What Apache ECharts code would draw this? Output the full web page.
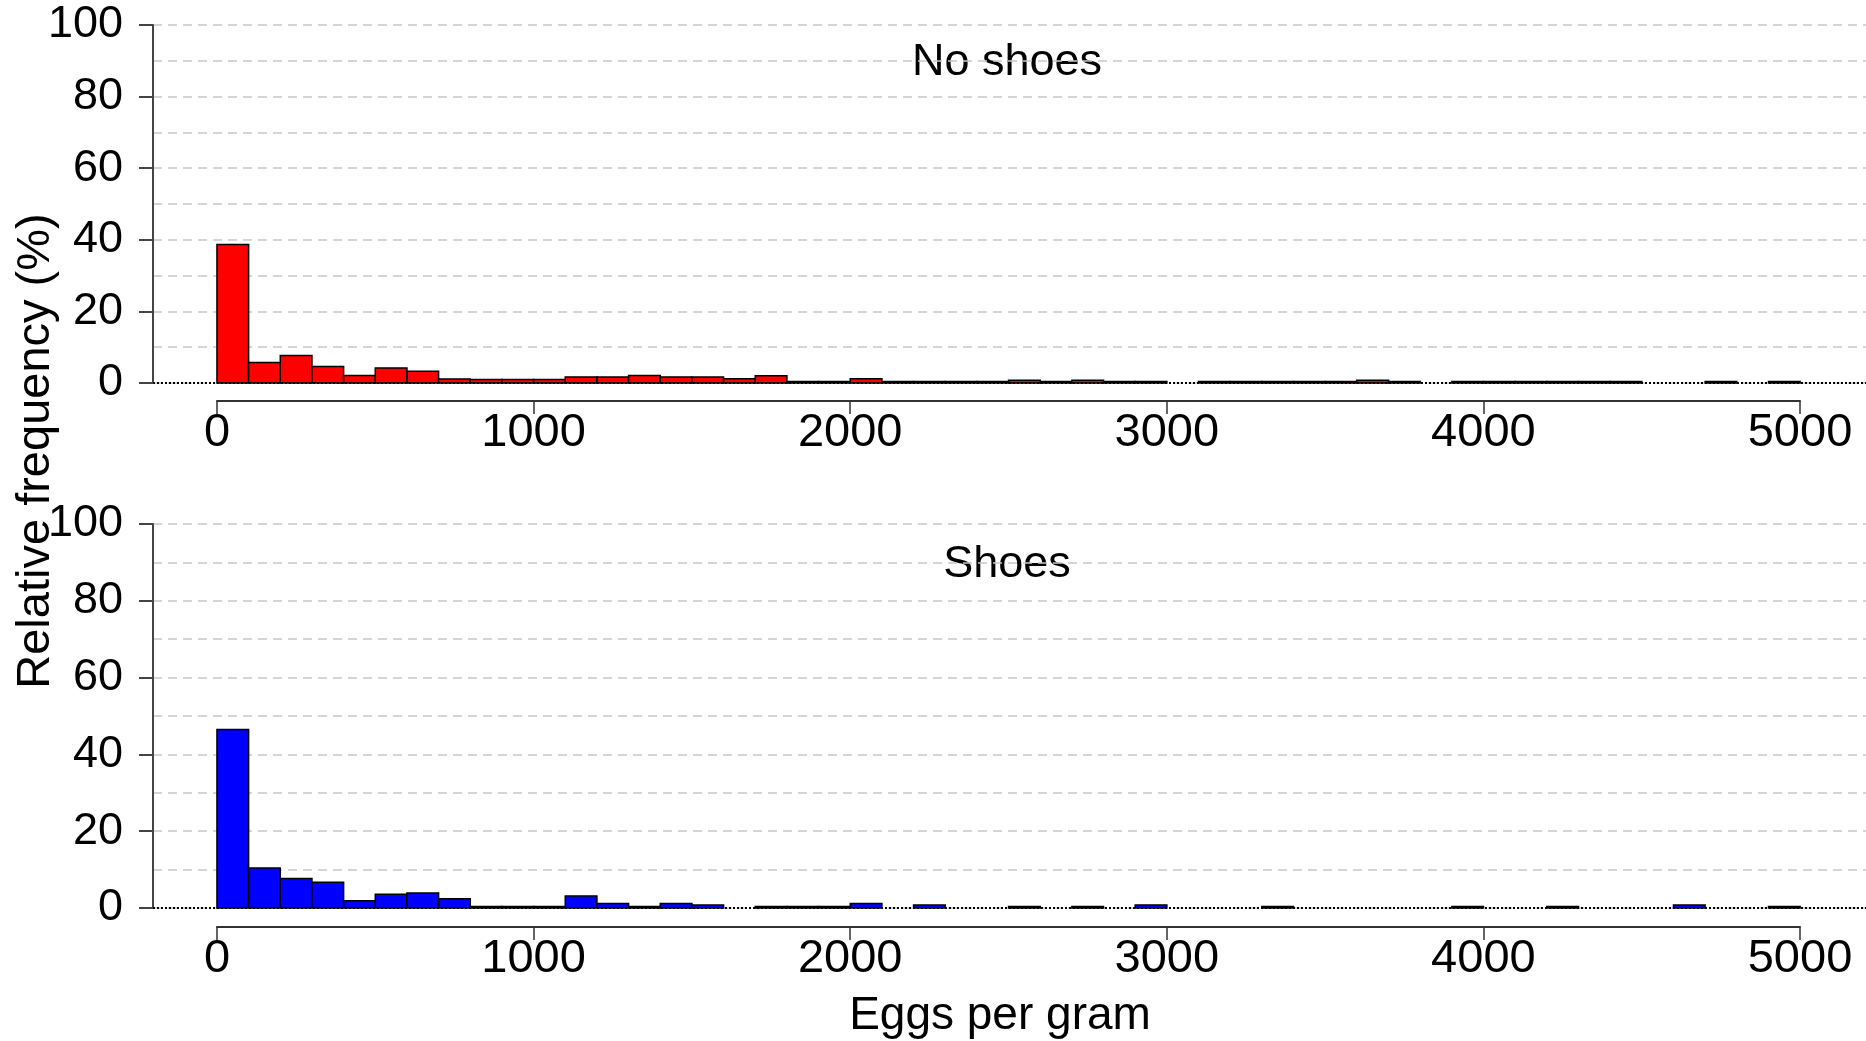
<!DOCTYPE html>
<html>
<head>
<meta charset="utf-8">
<title>Eggs per gram</title>
<script src="https://cdn.jsdelivr.net/npm/echarts@6.0.0/dist/echarts.min.js"></script>
<style>
    html, body { margin: 0; padding: 0; background: #fff; }
    #main { width: 1866px; height: 1041px; }
</style>
</head>
<body>
<div id="main"></div>
<script>
// histogram bins, 100 eggs per gram each, starting at 0
var binWidth = 100;
var xTicks = [0, 1000, 2000, 3000, 4000, 5000];
var yTicks = [0, 20, 40, 60, 80, 100];
var panelNames = ['No shoes', 'Shoes'];

// relative frequency (%) per bin
var noShoes = [
    38.7, 5.7, 7.7, 4.6, 2.1, 4.2, 3.3, 1.1, 1.0, 1.0,
    1.0, 1.7, 1.7, 2.1, 1.7, 1.7, 1.2, 2.0, 0.4, 0.4,
    1.2, 0.4, 0.4, 0.4, 0.4, 0.8, 0.4, 0.8, 0.4, 0.4,
    0, 0.4, 0.4, 0.4, 0.4, 0.4, 0.8, 0.4, 0, 0.4,
    0.4, 0.4, 0.4, 0.4, 0.4, 0, 0, 0.4, 0, 0.4
];
var shoes = [
    46.5, 10.4, 7.7, 6.7, 1.9, 3.6, 3.9, 2.4, 0.4, 0.4,
    0.4, 3.1, 1.2, 0.4, 1.2, 0.8, 0, 0.4, 0.4, 0.4,
    1.2, 0, 0.8, 0, 0, 0.4, 0, 0.4, 0, 0.8,
    0, 0, 0, 0.4, 0, 0, 0, 0, 0, 0.4,
    0, 0, 0.4, 0, 0, 0, 0.8, 0, 0, 0.4
];

var font = 'Liberation Sans, Arial, sans-serif';

function toBins(values) {
    var out = [];
    for (var i = 0; i < values.length; i++) {
        if (values[i] > 0) {
            out.push([i * binWidth, (i + 1) * binWidth, values[i]]);
        }
    }
    return out;
}

function renderBin(params, api) {
    var top = api.coord([api.value(0), api.value(2)]);
    var bottom = api.coord([api.value(1), 0]);
    return {
        type: 'rect',
        shape: {
            x: top[0],
            y: top[1],
            width: bottom[0] - top[0],
            height: bottom[1] - top[1]
        },
        style: {
            fill: api.visual('color'),
            stroke: '#000',
            lineWidth: 1.5
        }
    };
}

// plot area axis (hidden, wider than the labelled 0-5000 axis)
function plotXAxis(grid) {
    return {
        gridIndex: grid,
        type: 'value',
        min: -202,
        max: 5208,
        show: false
    };
}

function tickXAxis(grid) {
    return {
        gridIndex: grid,
        type: 'value',
        position: 'bottom',
        min: xTicks[0],
        max: xTicks[xTicks.length - 1],
        interval: 1000,
        axisLine: { show: true, lineStyle: { color: '#333', width: 2 } },
        axisTick: { show: true, length: 13, lineStyle: { color: '#333', width: 1.5 } },
        axisLabel: {
            show: true, color: '#000', fontSize: 47, fontFamily: font, margin: 9,
            formatter: function (v) { return String(v); }
        },
        splitLine: { show: false }
    };
}

function plotYAxis(grid) {
    return {
        gridIndex: grid,
        type: 'value',
        min: yTicks[0],
        max: yTicks[yTicks.length - 1],
        interval: 20,
        axisLine: { show: true, onZero: false, lineStyle: { color: '#444', width: 2 } },
        axisTick: { show: true, length: 14, lineStyle: { color: '#444', width: 2 } },
        axisLabel: { color: '#000', fontSize: 45, fontFamily: font, margin: 30 },
        splitLine: { show: true, lineStyle: { color: '#c8c8c8', type: [9, 6], width: 1.5 } },
        minorTick: { show: false, splitNumber: 2 },
        minorSplitLine: { show: true, lineStyle: { color: '#c8c8c8', type: [9, 6], width: 1.5 } }
    };
}

function dummyYAxis(grid) {
    return { gridIndex: grid, type: 'value', min: 0, max: 1, show: false };
}

function binSeries(values, color, axisIndex) {
    return {
        type: 'custom',
        xAxisIndex: axisIndex,
        yAxisIndex: axisIndex,
        renderItem: renderBin,
        itemStyle: { color: color },
        encode: { x: [0, 1], y: 2 },
        data: toBins(values),
        silent: true,
        z: 3,
        markLine: {
            silent: true,
            symbol: 'none',
            label: { show: false },
            lineStyle: { color: '#000', type: 'dotted', width: 2 },
            data: [{ yAxis: 0 }]
        }
    };
}

function textItem(str, x, y, size, rot) {
    return {
        type: 'text', x: x, y: y, rotation: rot || 0,
        style: {
            text: str, fill: '#000', font: size + 'px ' + font,
            align: 'center', verticalAlign: 'middle',
            textAlign: 'center', textVerticalAlign: 'middle'
        }
    };
}

var chart = echarts.init(document.getElementById('main'));
var option = {
    animation: false,
    backgroundColor: '#fff',
    grid: [
        { left: 153, right: 0, top: 25, height: 358 },
        { left: 217, width: 1583, top: 383, height: 18 },
        { left: 153, right: 0, top: 524, height: 384 },
        { left: 217, width: 1583, top: 908, height: 19 }
    ],
    xAxis: [plotXAxis(0), tickXAxis(1), plotXAxis(2), tickXAxis(3)],
    yAxis: [plotYAxis(0), dummyYAxis(1), plotYAxis(2), dummyYAxis(3)],
    graphic: [
        textItem(panelNames[0], 1007, 63, 45),
        textItem(panelNames[1], 1007, 565, 45),
        textItem('Relative frequency (%)', 36, 451, 47, Math.PI / 2),
        textItem('Eggs per gram', 1000, 1016, 46)
    ],
    series: [
        binSeries(noShoes, '#ff0000', 0),
        binSeries(shoes, '#0000ff', 2)
    ]
};
chart.setOption(option);
</script>
</body>
</html>
